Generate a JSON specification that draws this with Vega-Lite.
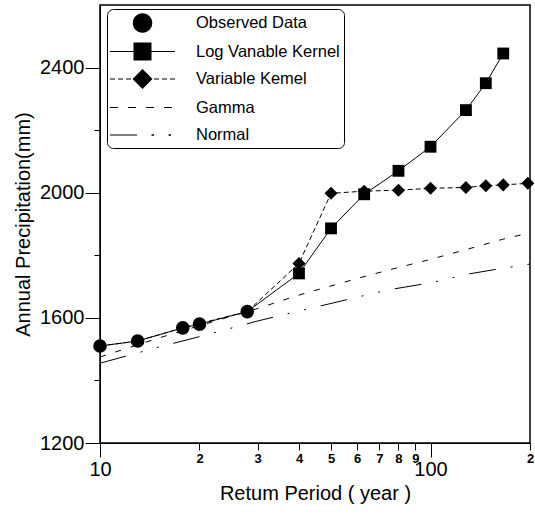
{
  "$schema": "https://vega.github.io/schema/vega-lite/v6.json",
  "width": 430,
  "height": 438,
  "autosize": {"type": "none"},
  "padding": {"left": 100, "top": 5, "right": 5, "bottom": 71},
  "background": "white",
  "config": {
    "view": {"stroke": "black", "strokeWidth": 1.5},
    "font": "Liberation Sans",
    "axis": {
      "domainColor": "black",
      "tickColor": "black",
      "labelColor": "black",
      "titleColor": "black",
      "labelFont": "Liberation Sans",
      "titleFont": "Liberation Sans",
      "titleFontWeight": "normal",
      "grid": false,
      "labelOverlap": false,
      "labelFlush": false
    }
  },
  "data": {
    "values": [
      {"series": "Variable Kemel", "T": 10, "value": 1510},
      {"series": "Variable Kemel", "T": 13, "value": 1526},
      {"series": "Variable Kemel", "T": 17.8, "value": 1568},
      {"series": "Variable Kemel", "T": 20, "value": 1582},
      {"series": "Variable Kemel", "T": 27.9, "value": 1620},
      {"series": "Variable Kemel", "T": 40, "value": 1774},
      {"series": "Variable Kemel", "T": 50, "value": 1998},
      {"series": "Variable Kemel", "T": 63, "value": 2005},
      {"series": "Variable Kemel", "T": 80, "value": 2008},
      {"series": "Variable Kemel", "T": 100, "value": 2014},
      {"series": "Variable Kemel", "T": 128, "value": 2017},
      {"series": "Variable Kemel", "T": 147, "value": 2022},
      {"series": "Variable Kemel", "T": 166, "value": 2025},
      {"series": "Variable Kemel", "T": 197, "value": 2030},
      {"series": "Log Vanable Kernel", "T": 10, "value": 1510},
      {"series": "Log Vanable Kernel", "T": 13, "value": 1526},
      {"series": "Log Vanable Kernel", "T": 17.8, "value": 1568},
      {"series": "Log Vanable Kernel", "T": 20, "value": 1580},
      {"series": "Log Vanable Kernel", "T": 27.9, "value": 1620},
      {"series": "Log Vanable Kernel", "T": 40, "value": 1742},
      {"series": "Log Vanable Kernel", "T": 50, "value": 1886},
      {"series": "Log Vanable Kernel", "T": 63, "value": 1995},
      {"series": "Log Vanable Kernel", "T": 80, "value": 2070},
      {"series": "Log Vanable Kernel", "T": 100, "value": 2147},
      {"series": "Log Vanable Kernel", "T": 128, "value": 2264},
      {"series": "Log Vanable Kernel", "T": 147, "value": 2350},
      {"series": "Log Vanable Kernel", "T": 166, "value": 2445},
      {"series": "Observed Data", "T": 10, "value": 1510},
      {"series": "Observed Data", "T": 13, "value": 1526},
      {"series": "Observed Data", "T": 17.8, "value": 1568},
      {"series": "Observed Data", "T": 20, "value": 1580},
      {"series": "Observed Data", "T": 27.9, "value": 1620},
      {"series": "Gamma", "T": 10, "value": 1475},
      {"series": "Gamma", "T": 15, "value": 1535},
      {"series": "Gamma", "T": 20, "value": 1575},
      {"series": "Gamma", "T": 30, "value": 1630},
      {"series": "Gamma", "T": 40, "value": 1673},
      {"series": "Gamma", "T": 50, "value": 1702},
      {"series": "Gamma", "T": 62, "value": 1730},
      {"series": "Gamma", "T": 78, "value": 1758},
      {"series": "Gamma", "T": 100, "value": 1787},
      {"series": "Gamma", "T": 130, "value": 1820},
      {"series": "Gamma", "T": 165, "value": 1851},
      {"series": "Gamma", "T": 200, "value": 1872},
      {"series": "Normal", "T": 10, "value": 1455},
      {"series": "Normal", "T": 15, "value": 1506},
      {"series": "Normal", "T": 20, "value": 1540},
      {"series": "Normal", "T": 30, "value": 1590},
      {"series": "Normal", "T": 40, "value": 1622},
      {"series": "Normal", "T": 50, "value": 1646},
      {"series": "Normal", "T": 60, "value": 1666},
      {"series": "Normal", "T": 75, "value": 1690},
      {"series": "Normal", "T": 100, "value": 1712},
      {"series": "Normal", "T": 130, "value": 1740},
      {"series": "Normal", "T": 160, "value": 1756},
      {"series": "Normal", "T": 200, "value": 1772}
    ]
  },
  "encoding": {
    "x": {
      "field": "T",
      "type": "quantitative",
      "scale": {"type": "log", "domain": [10, 200], "nice": false},
      "axis": {
        "values": [10, 20, 30, 40, 50, 60, 70, 80, 90, 100, 200],
        "labelExpr": "datum.value == 10 || datum.value == 100 ? datum.value + '' : substring(datum.value + '', 0, 1)",
        "labelFontSize": {"condition": {"test": "datum.value == 10 || datum.value == 100", "value": 20}, "value": 13},
        "labelFontWeight": {"condition": {"test": "datum.value == 10 || datum.value == 100", "value": "normal"}, "value": "bold"},
        "tickSize": {"condition": {"test": "datum.value == 10 || datum.value == 100", "value": 14}, "value": 7},
        "labelPadding": 2,
        "title": "Retum Period ( year )",
        "titleFontSize": 20,
        "titlePadding": 4
      }
    },
    "y": {
      "field": "value",
      "type": "quantitative",
      "scale": {"domain": [1200, 2600], "nice": false, "zero": false},
      "axis": {
        "values": [1200, 1400, 1600, 1800, 2000, 2200, 2400],
        "labelExpr": "datum.value % 400 == 0 ? datum.value + '' : ''",
        "labelFontSize": 20,
        "tickSize": {"condition": {"test": "datum.value % 400 == 0", "value": 15}, "value": 6},
        "labelPadding": 1,
        "title": "Annual Precipitation(mm)",
        "titleFontSize": 20,
        "titlePadding": 6
      }
    }
  },
  "layer": [
    {
      "transform": [{"filter": "datum.series == 'Log Vanable Kernel'"}],
      "mark": {"type": "line", "color": "black", "strokeWidth": 1}
    },
    {
      "transform": [{"filter": "datum.series == 'Variable Kemel'"}],
      "mark": {"type": "line", "color": "black", "strokeWidth": 1, "strokeDash": [5, 3]}
    },
    {
      "transform": [{"filter": "datum.series == 'Gamma'"}],
      "mark": {"type": "line", "color": "black", "strokeWidth": 1, "strokeDash": [6, 10]}
    },
    {
      "transform": [{"filter": "datum.series == 'Normal'"}],
      "mark": {"type": "line", "color": "black", "strokeWidth": 1, "strokeDash": [27, 15, 2, 15, 2, 15]}
    },
    {
      "transform": [{"filter": "datum.series == 'Variable Kemel' && datum.T > 30"}],
      "mark": {"type": "point", "filled": true, "color": "black", "opacity": 1, "shape": "diamond", "size": 170}
    },
    {
      "transform": [{"filter": "datum.series == 'Log Vanable Kernel' && datum.T > 30"}],
      "mark": {"type": "point", "filled": true, "color": "black", "opacity": 1, "shape": "square", "size": 140}
    },
    {
      "transform": [{"filter": "datum.series == 'Observed Data'"}],
      "mark": {"type": "point", "filled": true, "color": "black", "opacity": 1, "shape": "circle", "size": 185}
    },
    {
      "transform": [{"filter": "datum.T < 0"}],
      "mark": {"type": "point", "filled": true, "color": "black", "opacity": 1, "size": 400},
      "encoding": {
        "shape": {
          "field": "series",
          "type": "nominal",
          "scale": {
            "domain": ["Observed Data", "Log Vanable Kernel", "Variable Kemel", "Gamma", "Normal"],
            "range": [
              "M-0.975,0A0.975,0.975,0,1,1,0.975,0A0.975,0.975,0,1,1,-0.975,0Z",
              "M-3.25,-0.06H3.25V0.06H-3.25Z M-0.9,-0.9H0.9V0.9H-0.9Z",
              "M-3.25,-0.06H-2.75V0.06H-3.25Z M-2.45,-0.06H-1.95V0.06H-2.45Z M-1.65,-0.06H-1.15V0.06H-1.65Z M-0.85,-0.06H-0.35V0.06H-0.85Z M0.35,-0.06H0.85V0.06H0.35Z M1.15,-0.06H1.65V0.06H1.15Z M1.95,-0.06H2.45V0.06H1.95Z M2.75,-0.06H3.25V0.06H2.75Z M0,-1L1,0L0,1L-1,0Z",
              "M-3.25,-0.06H-2.45V0.06H-3.25Z M-1.45,-0.06H-0.65V0.06H-1.45Z M0.35,-0.06H1.15V0.06H0.35Z M2.15,-0.06H2.95V0.06H2.15Z",
              "M-3.25,-0.06H-0.55V0.06H-3.25Z M0.9,-0.08H1.15V0.08H0.9Z M2.6,-0.08H2.85V0.08H2.6Z"
            ]
          },
          "legend": {
            "title": null,
            "orient": "none",
            "legendX": 7,
            "legendY": 4,
            "padding": 4,
            "fillColor": "white",
            "strokeColor": "black",
            "cornerRadius": 6,
            "labelFontSize": 16.5,
            "labelFont": "Liberation Sans",
            "labelColor": "black",
            "labelOffset": 43.5,
            "symbolOffset": 21.5,
            "rowPadding": 8.5,
            "symbolSize": 400,
            "symbolFillColor": "black",
            "symbolStrokeColor": "black",
            "symbolStrokeWidth": 0,
            "symbolOpacity": 1
          }
        }
      }
    }
  ]
}
